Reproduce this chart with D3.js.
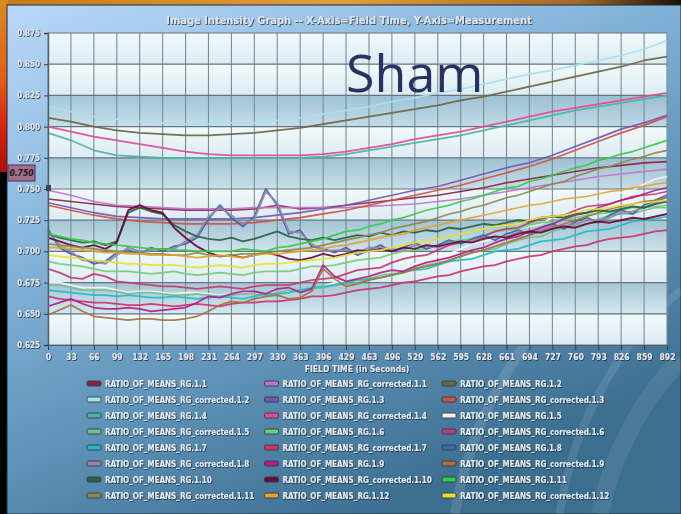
<!DOCTYPE html>
<html>
<head>
<meta charset="utf-8">
<script src="https://cdn.jsdelivr.net/npm/d3@7/dist/d3.min.js"></script>
<style>
  html, body { margin: 0; padding: 0; background: #000; }
  svg { display: block; }
</style>
</head>
<body>
<svg id="chart" width="681" height="514"></svg>
<script>
// ---- Axis ticks -------------------------------------------------------
const xTickLabels = ["0","33","66","99","132","165","198","231","264","297","330","363","396","429",
                     "463","496","529","562","595","628","661","694","727","760","793","826","859","892"];
const yTickValues = [0.625, 0.650, 0.675, 0.700, 0.725, 0.750, 0.775, 0.800, 0.825, 0.850, 0.875];
const fieldTimeMax = 892;

// Sample times: coarse series are sampled at every x tick, fine series at every half tick.
const timesCoarse = d3.range(28).map(i => i * fieldTimeMax / 27);
const timesFine   = d3.range(55).map(j => j * fieldTimeMax / 54);

// ---- Series values (ratio of means) ------------------------------------
const rg_1_1 = [.742,.740,.738,.736,.735,.734,.733, .733,.733,.734,.737,.734,.735,.737,
                .739,.741,.743,.745,.748,.751,.755, .758,.761,.764,.767,.769,.771,.772];
const rgc_1_1 = [.749,.745,.740,.737,.736,.735,.734, .734,.734,.735,.735,.735,.735,.735,
                 .736,.737,.738,.740,.742,.745,.748, .751,.754,.757,.760,.762,.764,.766];
const rg_1_2 = [.807,.804,.800,.797,.795,.794,.793, .793,.794,.795,.797,.799,.802,.805,
                .808,.811,.814,.817,.821,.824,.828, .832,.836,.840,.844,.848,.853,.856];
const rgc_1_2 = [.816,.812,.808,.806,.804,.803,.802, .802,.803,.803,.805,.807,.810,.813,
                 .816,.820,.823,.827,.830,.834,.838, .842,.845,.849,.853,.857,.862,.869];
const rg_1_3 = [.739,.735,.731,.728,.727,.726,.726, .726,.726,.727,.729,.731,.734,.737,
                .741,.745,.749,.752,.757,.762,.767, .771,.777,.784,.791,.798,.803,.809];
const rgc_1_3 = [.737,.733,.729,.726,.724,.723,.722, .722,.722,.723,.725,.727,.730,.733,
                 .737,.741,.745,.749,.753,.758,.763, .768,.774,.781,.788,.795,.801,.808];
const rg_1_4 = [.795,.789,.781,.777,.776,.775,.775, .775,.775,.775,.775,.775,.776,.778,
                .781,.784,.787,.790,.793,.797,.801, .805,.809,.813,.816,.819,.822,.825];
const rgc_1_4 = [.800,.796,.792,.789,.786,.783,.780, .778,.777,.777,.777,.777,.778,.780,
                 .783,.786,.790,.793,.796,.800,.804, .808,.812,.815,.818,.821,.824,.827];
const rg_1_5 = [.675,.675,.673,.671,.671,.671,.669,.667,.668,.668,
                .667,.666,.667,.667,.666,.665,.666,.667,.666,.665,
                .667,.669,.669,.670,.672,.675,.676,.677,.680,.683,
                .685,.686,.690,.694,.696,.698,.702,.706,.708,.710,
                .714,.718,.720,.722,.727,.731,.734,.736,.740,.744,
                .747,.749,.754,.758,.760];
const rgc_1_5 = [.673,.673,.671,.669,.669,.669,.668,.666,.667,.667,
                 .666,.665,.665,.666,.665,.664,.665,.666,.666,.665,
                 .667,.669,.669,.670,.671,.673,.674,.675,.678,.681,
                 .682,.683,.686,.689,.691,.692,.696,.699,.701,.702,
                 .706,.709,.711,.712,.716,.719,.721,.722,.726,.729,
                 .730,.730,.733,.735,.735];
const rg_1_6 = [.692,.690,.689,.688,.686,.684,.684,.684,.683,.682,
                .683,.684,.682,.681,.682,.683,.682,.681,.683,.684,
                .684,.684,.686,.688,.688,.689,.691,.693,.694,.695,
                .698,.700,.701,.702,.705,.708,.709,.710,.713,.716,
                .717,.718,.721,.723,.724,.725,.727,.729,.730,.731,
                .733,.735,.735,.736,.737];
const rgc_1_6 = [.686,.683,.679,.678,.682,.680,.676,.675,.674,.673,
                 .672,.672,.671,.670,.671,.672,.671,.670,.672,.673,
                 .673,.673,.675,.677,.678,.679,.682,.685,.686,.687,
                 .691,.694,.696,.697,.701,.705,.707,.708,.712,.716,
                 .718,.719,.723,.726,.728,.729,.733,.736,.737,.738,
                 .741,.744,.745,.746,.748];
const rg_1_7 = [.669,.668,.667,.666,.665,.665,.664,.665,.664,.663,
                .663,.664,.663,.662,.663,.664,.663,.662,.664,.666,
                .666,.667,.669,.671,.672,.673,.675,.677,.678,.679,
                .681,.684,.685,.686,.689,.692,.693,.694,.697,.700,
                .701,.702,.705,.708,.709,.710,.713,.716,.717,.718,
                .721,.724,.725,.726,.728];
const rgc_1_7 = [.664,.662,.661,.660,.659,.659,.658,.657,.657,.658,
                 .657,.656,.657,.658,.657,.656,.658,.659,.659,.660,
                 .660,.661,.662,.664,.664,.665,.667,.669,.670,.671,
                 .673,.675,.676,.678,.680,.681,.684,.686,.688,.689,
                 .692,.694,.696,.697,.700,.702,.704,.705,.708,.710,
                 .711,.712,.714,.716,.717];
const rg_1_8 = [.718,.703,.698,.695,.690,.692,.699,.701,.698,.703,
                .700,.704,.706,.711,.726,.737,.727,.720,.728,.750,
                .737,.714,.717,.704,.702,.699,.703,.697,.701,.705,
                .700,.703,.707,.702,.705,.709,.706,.710,.713,.709,
                .714,.717,.714,.719,.722,.718,.724,.727,.723,.729,
                .733,.730,.737,.741,.745];
const rgc_1_8 = [.716,.705,.700,.693,.692,.690,.697,.703,.700,.701,
                 .702,.702,.708,.713,.728,.735,.729,.722,.726,.748,
                 .739,.716,.715,.706,.700,.701,.701,.699,.703,.703,
                 .702,.701,.705,.704,.703,.707,.708,.708,.711,.711,
                 .712,.715,.716,.717,.720,.720,.722,.725,.725,.727,
                 .731,.732,.735,.739,.744];
const rg_1_9 = [.656,.659,.662,.658,.655,.654,.654,.655,.654,.652,
                .653,.654,.655,.659,.664,.663,.666,.668,.668,.666,
                .670,.671,.667,.670,.689,.680,.676,.678,.680,.683,
                .685,.684,.688,.691,.693,.695,.698,.701,.703,.707,
                .710,.712,.716,.719,.722,.726,.729,.731,.735,.738,
                .741,.743,.746,.749,.751];
const rgc_1_9 = [.649,.653,.657,.652,.648,.647,.646,.645,.646,.646,
                 .645,.645,.646,.648,.652,.657,.660,.659,.662,.664,
                 .665,.662,.663,.668,.686,.678,.672,.674,.677,.679,
                 .681,.683,.686,.688,.690,.693,.696,.699,.701,.704,
                 .707,.710,.713,.716,.719,.722,.725,.728,.731,.734,
                 .736,.738,.740,.741,.743];
const rg_1_10 = [.714,.711,.709,.707,.708,.705,.708,.731,.735,.732,
                 .730,.721,.716,.712,.710,.709,.711,.708,.710,.713,
                 .716,.712,.710,.709,.711,.709,.711,.713,.712,.715,
                 .713,.716,.715,.717,.716,.719,.718,.720,.722,.721,
                 .723,.725,.724,.727,.728,.727,.730,.731,.733,.732,
                 .734,.736,.735,.738,.740];
const rgc_1_10 = [.711,.708,.705,.703,.705,.702,.707,.733,.737,.733,
                  .731,.719,.711,.704,.699,.696,.697,.695,.697,.699,
                  .697,.694,.693,.695,.698,.696,.698,.701,.700,.702,
                  .700,.703,.702,.705,.704,.706,.708,.707,.710,.712,
                  .711,.714,.716,.715,.718,.720,.719,.722,.724,.723,
                  .725,.727,.726,.728,.730];
const rg_1_11 = [.714,.712,.710,.709,.707,.706,.705,.704,.703,.702,
                 .702,.701,.701,.700,.700,.700,.700,.702,.701,.700,
                 .703,.704,.706,.708,.710,.713,.716,.717,.720,.722,
                 .725,.727,.730,.733,.735,.737,.740,.742,.745,.748,
                 .751,.752,.756,.758,.761,.764,.767,.769,.773,.775,
                 .778,.780,.783,.786,.789];
const rgc_1_11 = [.706,.705,.704,.703,.702,.701,.700,.699,.699,.698,
                  .698,.697,.697,.699,.697,.696,.697,.698,.698,.699,
                  .700,.701,.702,.703,.705,.707,.709,.711,.713,.715,
                  .718,.720,.722,.724,.727,.730,.732,.735,.737,.740,
                  .743,.745,.748,.751,.754,.756,.760,.763,.766,.768,
                  .771,.774,.776,.779,.781];
const rg_1_12 = [.703,.703,.702,.701,.700,.699,.699,.698,.698,.697,
                 .697,.697,.696,.695,.696,.697,.696,.695,.697,.698,
                 .698,.699,.700,.701,.702,.704,.705,.707,.709,.711,
                 .713,.714,.717,.719,.721,.723,.725,.727,.729,.731,
                 .733,.735,.737,.738,.740,.742,.743,.744,.746,.748,
                 .749,.751,.752,.754,.755];
const rgc_1_12 = [.697,.696,.695,.694,.693,.692,.691,.690,.690,.689,
                  .689,.689,.688,.687,.688,.689,.688,.687,.689,.690,
                  .690,.691,.692,.693,.694,.695,.697,.699,.700,.701,
                  .703,.705,.707,.708,.710,.712,.714,.716,.718,.720,
                  .721,.722,.725,.727,.728,.729,.731,.733,.734,.735,
                  .737,.738,.739,.740,.741];

// Legend order (row by row, three columns)
const seriesNames = [
  "RATIO_OF_MEANS_RG.1.1", "RATIO_OF_MEANS_RG_corrected.1.1", "RATIO_OF_MEANS_RG.1.2",
  "RATIO_OF_MEANS_RG_corrected.1.2", "RATIO_OF_MEANS_RG.1.3", "RATIO_OF_MEANS_RG_corrected.1.3",
  "RATIO_OF_MEANS_RG.1.4", "RATIO_OF_MEANS_RG_corrected.1.4", "RATIO_OF_MEANS_RG.1.5",
  "RATIO_OF_MEANS_RG_corrected.1.5", "RATIO_OF_MEANS_RG.1.6", "RATIO_OF_MEANS_RG_corrected.1.6",
  "RATIO_OF_MEANS_RG.1.7", "RATIO_OF_MEANS_RG_corrected.1.7", "RATIO_OF_MEANS_RG.1.8",
  "RATIO_OF_MEANS_RG_corrected.1.8", "RATIO_OF_MEANS_RG.1.9", "RATIO_OF_MEANS_RG_corrected.1.9",
  "RATIO_OF_MEANS_RG.1.10", "RATIO_OF_MEANS_RG_corrected.1.10", "RATIO_OF_MEANS_RG.1.11",
  "RATIO_OF_MEANS_RG_corrected.1.11", "RATIO_OF_MEANS_RG.1.12", "RATIO_OF_MEANS_RG_corrected.1.12"
];
const seriesValues = [
  rg_1_1, rgc_1_1, rg_1_2, rgc_1_2, rg_1_3, rgc_1_3, rg_1_4, rgc_1_4,
  rg_1_5, rgc_1_5, rg_1_6, rgc_1_6, rg_1_7, rgc_1_7, rg_1_8, rgc_1_8,
  rg_1_9, rgc_1_9, rg_1_10, rgc_1_10, rg_1_11, rgc_1_11, rg_1_12, rgc_1_12
];
const seriesColors = [
  "#8c2244", "#c274cc", "#6c6642", "#a6e2ec", "#7258b0", "#d45040",
  "#4eb4a0", "#e44a96", "#f6f6f0", "#78bc92", "#72cc7a", "#c43a74",
  "#22bcc8", "#cc3272", "#3a6aa4", "#9a84ac", "#b41a8c", "#a4723a",
  "#2a6242", "#6a0a3a", "#34cc44", "#8c8a4a", "#e2a232", "#e2e234"
];

// ---- Layout -----------------------------------------------------------
const W = 681, H = 514;
const plot = { left: 48, right: 667, top: 33, bottom: 345 };

const svg = d3.select("#chart");
const defs = svg.append("defs");

const x = d3.scaleLinear().domain([0, fieldTimeMax]).range([plot.left, plot.right]);
const y = d3.scaleLinear().domain([0.625, 0.875]).range([plot.bottom, plot.top]);
const xTickValues = timesCoarse;

// gradients
function linGrad(id, x1, y1, x2, y2, stops) {
  const g = defs.append("linearGradient").attr("id", id)
    .attr("x1", x1).attr("y1", y1).attr("x2", x2).attr("y2", y2);
  stops.forEach(s => g.append("stop").attr("offset", s[0]).attr("stop-color", s[1]));
}
linGrad("topStrip", 0, 0, 1, 0, [[0, "#c8781c"], [0.5, "#e0a038"], [0.85, "#a06a28"], [1, "#1a1008"]]);
linGrad("leftStrip", 0, 0, 0, 1, [[0, "#d88a22"], [0.45, "#e0601a"], [0.75, "#d82010"], [1, "#b01008"]]);
linGrad("panel", 0, 0, 0.55, 1, [[0, "#b8d8f8"], [0.35, "#8ab8de"], [0.7, "#5e92b6"], [1, "#3c6e90"]]);
linGrad("bandLight", 0, 0, 0, 1, [[0, "#f2f9fb"], [1, "#dcecf2"]]);
linGrad("bandDark", 0, 0, 0, 1, [[0, "#a4c6d4"], [1, "#d6e8ee"]]);

const shadow = defs.append("filter").attr("id", "txtShadow")
  .attr("x", "-10%").attr("y", "-30%").attr("width", "130%").attr("height", "170%");
shadow.append("feDropShadow").attr("dx", 0.8).attr("dy", 0.8)
  .attr("stdDeviation", 0.4).attr("flood-color", "#142434").attr("flood-opacity", 0.9);

// ---- Slide background -------------------------------------------------
svg.append("rect").attr("width", W).attr("height", H).attr("fill", "#000");
svg.append("rect").attr("x", 0).attr("y", 0).attr("width", W).attr("height", 6).attr("fill", "url(#topStrip)");
svg.append("rect").attr("x", 0).attr("y", 0).attr("width", 8).attr("height", 172).attr("fill", "url(#leftStrip)");

// panel
svg.append("rect").attr("x", 7).attr("y", 5).attr("width", W - 7).attr("height", H - 5)
  .attr("fill", "url(#panel)").attr("stroke", "#1c2c3c").attr("stroke-width", 1);

// faint decorative arcs on the panel
const arcs = svg.append("g").attr("fill", "none").attr("stroke", "#ffffff");
arcs.append("path").attr("d", "M 455 514 C 470 420, 520 320, 640 230").attr("stroke-opacity", 0.12).attr("stroke-width", 10);
arcs.append("path").attr("d", "M 560 514 C 570 430, 620 340, 681 290").attr("stroke-opacity", 0.10).attr("stroke-width", 8);
arcs.append("path").attr("d", "M 600 514 C 610 460, 640 400, 681 360").attr("stroke-opacity", 0.08).attr("stroke-width", 18);

// ---- Plot area ---------------------------------------------------------
const bands = svg.append("g");
for (let k = 0; k < yTickValues.length - 1; k++) {
  const lo = yTickValues[k], hi = yTickValues[k + 1];
  const idxFromTop = yTickValues.length - 2 - k;
  const dark = idxFromTop % 2 === 0 && idxFromTop >= 2;
  bands.append("rect")
    .attr("x", plot.left).attr("y", y(hi))
    .attr("width", plot.right - plot.left).attr("height", y(lo) - y(hi))
    .attr("fill", dark ? "url(#bandDark)" : "url(#bandLight)")
    .attr("opacity", dark ? 0.7 + idxFromTop * 0.04 : 1);
}

// grid
const grid = svg.append("g");
grid.selectAll("line.v").data(xTickValues).join("line")
  .attr("x1", d => x(d)).attr("x2", d => x(d))
  .attr("y1", plot.top).attr("y2", plot.bottom)
  .attr("stroke", "#7c8c96").attr("stroke-width", 1.1);
grid.selectAll("line.h").data(yTickValues).join("line")
  .attr("x1", plot.left).attr("x2", plot.right)
  .attr("y1", d => y(d)).attr("y2", d => y(d))
  .attr("stroke", "#667680").attr("stroke-width", 1.2);

// ---- Series lines ------------------------------------------------------
const line = d3.line().x(d => x(d[0])).y(d => y(d[1]));
const linesG = svg.append("g").attr("fill", "none");
seriesValues.forEach((vals, k) => {
  const times = vals.length === timesFine.length ? timesFine : timesCoarse;
  const pts = vals.map((v, i) => [times[i], v]);
  linesG.append("path")
    .attr("d", line(pts))
    .attr("stroke", seriesColors[k])
    .attr("stroke-width", k === 18 || k === 19 || k === 14 || k === 15 ? 1.9 : 1.7)
    .attr("stroke-linejoin", "round")
    .attr("stroke-opacity", 0.92);
});

// ---- Axes ---------------------------------------------------------------
const labelFont = "'DejaVu Sans Condensed', 'DejaVu Sans', sans-serif";

const xAxis = d3.axisBottom(x).tickValues(xTickValues)
  .tickFormat((d, i) => xTickLabels[i]).tickSize(5).tickPadding(4);
const gx = svg.append("g").attr("transform", `translate(0,${plot.bottom})`).call(xAxis);
gx.select(".domain").attr("stroke", "#50606a");
gx.selectAll(".tick line").attr("stroke", "#30404a");
gx.selectAll(".tick text").attr("fill", "#e2e8ee").attr("font-size", 8.5)
  .attr("font-weight", "bold").attr("font-family", labelFont).attr("filter", "url(#txtShadow)");

const yAxis = d3.axisLeft(y).tickValues(yTickValues).tickFormat(d3.format(".3f")).tickSize(4).tickPadding(4);
const gy = svg.append("g").attr("transform", `translate(${plot.left},0)`).call(yAxis);
gy.select(".domain").attr("stroke", "#50606a").attr("stroke-width", 1.4);
gy.selectAll(".tick line").attr("stroke", "#30404a");
gy.selectAll(".tick text").attr("fill", "#e2e8ee").attr("font-size", 8)
  .attr("font-weight", "bold").attr("font-family", labelFont).attr("filter", "url(#txtShadow)");

// crosshair value tag on the y axis
const tagValue = 0.750;
svg.append("rect").attr("x", 8).attr("y", y(tagValue) - 24).attr("width", 27).attr("height", 16)
  .attr("fill", "#a07088").attr("stroke", "#4c3040").attr("stroke-width", 1);
svg.append("text").attr("x", 21.5).attr("y", y(tagValue) - 13)
  .attr("text-anchor", "middle").attr("font-size", 8.5).attr("font-style", "italic")
  .attr("font-weight", "bold").attr("font-family", labelFont).attr("fill", "#2a1424")
  .text(d3.format(".3f")(tagValue));
svg.append("rect").attr("x", 46).attr("y", y(tagValue) - 4).attr("width", 5).attr("height", 6)
  .attr("fill", "#3e4850");

// ---- Titles ---------------------------------------------------------------
svg.append("text").attr("x", 349).attr("y", 24).attr("text-anchor", "middle")
  .attr("font-size", 11).attr("font-weight", "bold").attr("font-family", labelFont)
  .attr("fill", "#dde5ee").attr("filter", "url(#txtShadow)")
  .text("Image Intensity Graph -- X-Axis=Field Time, Y-Axis=Measurement");

svg.append("text").attr("x", 357).attr("y", 372).attr("text-anchor", "middle")
  .attr("font-size", 8.5).attr("font-weight", "bold").attr("font-family", labelFont)
  .attr("fill", "#e2e8ee").attr("filter", "url(#txtShadow)")
  .text("FIELD TIME (in Seconds)");

svg.append("text").attr("x", 346).attr("y", 92)
  .attr("font-size", 52).attr("font-family", "'Open Sans', sans-serif").attr("font-weight", 400)
  .attr("fill", "#283262").text("Sham");

// ---- Legend ---------------------------------------------------------------
const legend = svg.append("g");
seriesNames.forEach((name, k) => {
  const col = k % 3, row = Math.floor(k / 3);
  const lx = 87 + col * 177.5, ly = 383.5 + row * 16;
  legend.append("rect").attr("x", lx).attr("y", ly - 2.5).attr("width", 14).attr("height", 5)
    .attr("rx", 1.5).attr("fill", seriesColors[k]).attr("stroke", "#2c3c48").attr("stroke-width", 0.9);
  legend.append("text").attr("x", lx + 18).attr("y", ly + 3)
    .attr("font-size", 8).attr("font-weight", "bold").attr("font-family", labelFont)
    .attr("fill", "#e4eaf0").attr("filter", "url(#txtShadow)").text(name);
});
</script>
</body>
</html>
